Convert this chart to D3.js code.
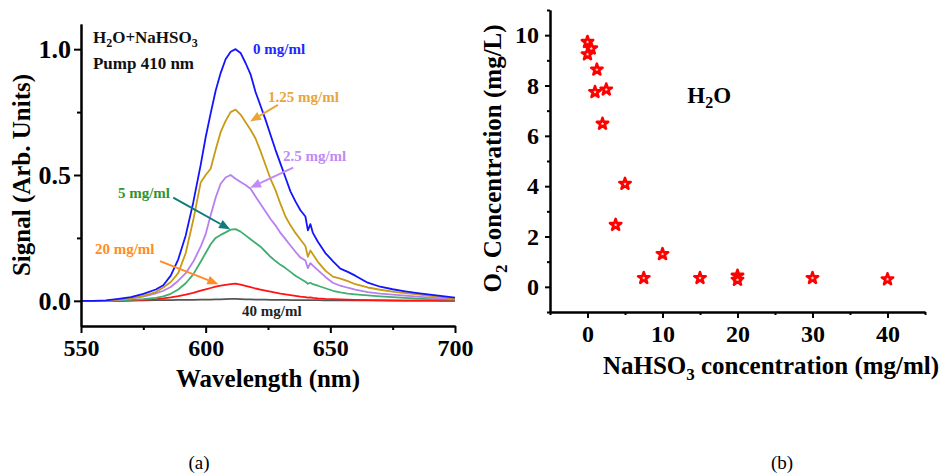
<!DOCTYPE html>
<html>
<head>
<meta charset="utf-8">
<script src="https://cdn.jsdelivr.net/npm/d3@7"></script>
<style>
  body { margin: 0; background: #fff; }
  text { font-family: "Liberation Serif", "Times New Roman", serif; }
</style>
</head>
<body>
<svg id="chart" width="943" height="474"></svg>
<script>
// ---- panel (a): emission spectra ----
const wavelengths = [550,555,560,565,570,575,580,583,586,589,592,595,598,
  600,602,604,606,608,610,612,614,616,618,620,622,624,626,628,630,632,634,636,638,640,
  641,642,643,645,648,651,654,657,660,665,670,675,680,685,690,695,700];

const signal0 = [0,0,0.002,0.008,0.015,0.028,0.045,0.062,0.1,0.165,0.26,0.39,0.54,
  0.65,0.745,0.835,0.905,0.96,0.99,1.0,0.985,0.945,0.9,0.83,0.775,0.72,0.66,0.6,0.545,0.49,0.435,0.395,0.36,0.335,
  0.28,0.305,0.27,0.235,0.19,0.158,0.128,0.115,0.1,0.072,0.056,0.046,0.038,0.031,0.025,0.019,0.013];
const signal125 = [0,0,0,0.005,0.01,0.02,0.035,0.053,0.075,0.11,0.19,0.32,0.47,
  0.5,0.525,0.6,0.67,0.715,0.75,0.76,0.74,0.71,0.68,0.645,0.595,0.54,0.485,0.44,0.385,0.335,0.3,0.27,0.244,0.218,
  0.175,0.2,0.185,0.155,0.12,0.096,0.088,0.078,0.066,0.053,0.044,0.037,0.031,0.026,0.02,0.015,0.01];
const signal25 = [0,0,0,0.004,0.01,0.017,0.03,0.04,0.055,0.08,0.11,0.155,0.215,
  0.265,0.34,0.41,0.465,0.49,0.5,0.485,0.472,0.46,0.445,0.415,0.385,0.355,0.325,0.3,0.27,0.245,0.22,0.195,0.172,0.16,
  0.13,0.15,0.14,0.122,0.095,0.072,0.06,0.052,0.045,0.035,0.029,0.025,0.021,0.017,0.013,0.01,0.008];
const signal5 = [0,0,0,0.002,0.004,0.007,0.012,0.018,0.028,0.045,0.07,0.105,0.155,
  0.19,0.225,0.25,0.262,0.272,0.283,0.285,0.275,0.26,0.245,0.23,0.215,0.195,0.175,0.158,0.143,0.13,0.115,0.1,0.088,0.076,
  0.068,0.072,0.066,0.06,0.05,0.04,0.034,0.029,0.026,0.022,0.018,0.015,0.012,0.009,0.007,0.006,0.005];
const signal20 = [0,0,0,0,0.002,0.004,0.007,0.01,0.014,0.019,0.025,0.032,0.041,
  0.046,0.051,0.056,0.06,0.063,0.066,0.068,0.064,0.059,0.054,0.049,0.045,0.041,0.037,0.033,0.029,0.026,0.023,0.02,0.017,0.015,
  0.013,0.014,0.012,0.01,0.008,0.007,0.006,0.005,0.004,0.003,0.002,0.002,0.001,0.001,0.001,0,0];
const signal40 = [0,0,0,0,0.001,0.002,0.003,0.003,0.003,0.004,0.004,0.004,0.005,
  0.005,0.005,0.006,0.006,0.007,0.008,0.008,0.007,0.006,0.006,0.005,0.005,0.005,0.004,0.004,0.004,0.004,0.003,0.003,0.003,0.003,
  0.003,0.003,0.003,0.003,0.002,0.002,0.002,0.002,0.002,0.002,0.002,0.001,0.001,0.001,0.001,0.001,0.001];

// drawing order: lowest first, 0 mg/ml on top
const seriesLabels = ['40 mg/ml', '20 mg/ml', '5 mg/ml', '2.5 mg/ml', '1.25 mg/ml', '0 mg/ml'];
const seriesValues = [signal40, signal20, signal5, signal25, signal125, signal0];
const seriesColors = ['#555555', '#ff1414', '#3fae6f', '#b87ff0', '#c99a16', '#1414ff'];

const xTicksA = [550, 600, 650, 700];
const xMinorA = [575, 625, 675];
const yTicksA = [0.0, 0.5, 1.0];
const yMinorA = [0.25, 0.75];

// ---- panel (b): dissolved oxygen ----
const naConc = [0, 0.5, 0, 1.25, 1, 2.5, 2, 5, 3.75, 7.5, 10, 15, 20, 20, 30, 40];
const o2Conc = [9.73, 9.47, 9.24, 8.63, 7.74, 7.84, 6.48, 4.09, 2.46, 0.35, 1.3, 0.35, 0.44, 0.28, 0.35, 0.3];
const xTicksB = [0, 10, 20, 30, 40];
const xMinorB = [-5, 5, 15, 25, 35, 45];
const yTicksB = [0, 2, 4, 6, 8, 10];
const yMinorB = [-1, 1, 3, 5, 7, 9, 11];

const svg = d3.select('#chart');
svg.append('rect').attr('width', 943).attr('height', 474).attr('fill', '#fff');

function styleAxis(g, size) {
  g.select('.domain').attr('stroke', '#000').attr('stroke-width', 2);
  g.selectAll('.tick line').attr('stroke', '#000').attr('stroke-width', 2);
  g.selectAll('.tick text')
    .attr('fill', '#000')
    .style('font-family', '"Liberation Serif", "Times New Roman", serif')
    .style('font-weight', 'bold')
    .style('font-size', size + 'px');
}

// ---------- panel (a) ----------
const xA = d3.scaleLinear().domain([550, 700]).range([81, 455]);
const yA = d3.scaleLinear().domain([-0.1, 1.1]).range([326, 24]);

const gA = svg.append('g');

const lineA = d3.line()
  .x((d, i) => xA(wavelengths[i]))
  .y(d => yA(d));

seriesValues.forEach((vals, k) => {
  gA.append('path')
    .attr('d', lineA(vals))
    .attr('fill', 'none')
    .attr('stroke', seriesColors[k])
    .attr('stroke-width', 1.8)
    .attr('stroke-linejoin', 'round');
});

// axes
gA.append('g').attr('transform', 'translate(0,326)')
  .call(d3.axisBottom(xA).tickValues(xMinorA).tickSize(4).tickFormat('').tickSizeOuter(0))
  .call(g => styleAxis(g, 24));
gA.append('g').attr('transform', 'translate(0,326)')
  .call(d3.axisBottom(xA).tickValues(xTicksA).tickSize(7).tickPadding(6).tickFormat(d3.format('d')).tickSizeOuter(0))
  .call(g => styleAxis(g, 24));
gA.append('g').attr('transform', 'translate(81,0)')
  .call(d3.axisLeft(yA).tickValues(yMinorA).tickSize(4).tickFormat('').tickSizeOuter(0))
  .call(g => styleAxis(g, 24));
gA.append('g').attr('transform', 'translate(81,0)')
  .call(d3.axisLeft(yA).tickValues(yTicksA).tickSize(7).tickPadding(3).tickFormat(d3.format('.1f')).tickSizeOuter(0))
  .call(g => styleAxis(g, 26));

// axis titles
gA.append('text')
  .attr('x', xA(625)).attr('y', 387)
  .attr('text-anchor', 'middle')
  .style('font-weight', 'bold').style('font-size', '25px')
  .text('Wavelength (nm)');
gA.append('text')
  .attr('transform', 'translate(30,' + yA(0.5) + ') rotate(-90)')
  .attr('text-anchor', 'middle')
  .style('font-weight', 'bold').style('font-size', '25px')
  .text('Signal (Arb. Units)');

// corner labels
const headA = gA.append('text').attr('x', xA(554.8)).attr('y', yA(1.026))
  .style('font-weight', 'bold').style('font-size', '17px').attr('fill', '#111');
headA.append('tspan').text('H');
headA.append('tspan').attr('dy', 4).style('font-size', '12px').text('2');
headA.append('tspan').attr('dy', -4).text('O+NaHSO');
headA.append('tspan').attr('dy', 4).style('font-size', '12px').text('3');
gA.append('text').attr('x', xA(554.8)).attr('y', yA(0.923))
  .style('font-weight', 'bold').style('font-size', '17px').attr('fill', '#111')
  .text('Pump 410 nm');

// curve labels and arrows (data coordinates)
const curveLabels = [
  { text: '0 mg/ml', wl: 619.0, v: 0.98, color: '#2424ff' },
  { text: '1.25 mg/ml', wl: 625.0, v: 0.792, color: '#e8a63a' },
  { text: '2.5 mg/ml', wl: 631.0, v: 0.555, color: '#c28af5' },
  { text: '5 mg/ml', wl: 564.8, v: 0.41, color: '#2e962e' },
  { text: '20 mg/ml', wl: 555.6, v: 0.185, color: '#ff8c24' },
  { text: '40 mg/ml', wl: 614.6, v: -0.059, color: '#222' }
];
const curveArrows = [
  { wl0: 629.0, v0: 0.779, wl1: 617.8, v1: 0.713, color: '#e8a63a' },
  { wl0: 635.1, v0: 0.529, wl1: 617.8, v1: 0.449, color: '#c28af5' },
  { wl0: 587.0, v0: 0.41, wl1: 609.8, v1: 0.284, color: '#0e7c7c' },
  { wl0: 581.7, v0: 0.158, wl1: 605.1, v1: 0.066, color: '#ff8c24' }
];

curveLabels.forEach(l => {
  gA.append('text')
    .attr('x', xA(l.wl)).attr('y', yA(l.v))
    .attr('fill', l.color)
    .style('font-weight', 'bold').style('font-size', '15px')
    .text(l.text);
});

curveArrows.forEach(a => {
  const x0 = xA(a.wl0), y0 = yA(a.v0), x1 = xA(a.wl1), y1 = yA(a.v1);
  const ang = Math.atan2(y1 - y0, x1 - x0);
  const hl = 11, hw = 4.5;
  const bx = x1 - hl * Math.cos(ang), by = y1 - hl * Math.sin(ang);
  gA.append('line')
    .attr('x1', x0).attr('y1', y0).attr('x2', bx).attr('y2', by)
    .attr('stroke', a.color).attr('stroke-width', 2);
  const px = -Math.sin(ang) * hw, py = Math.cos(ang) * hw;
  gA.append('path')
    .attr('d', `M${x1},${y1}L${bx + px},${by + py}L${bx - px},${by - py}Z`)
    .attr('fill', a.color);
});

// ---------- panel (b) ----------
const xB = d3.scaleLinear().domain([-5, 45]).range([550, 925]);
const yB = d3.scaleLinear().domain([-1, 11]).range([312, 10]);
const gB = svg.append('g');

gB.append('g').attr('transform', 'translate(0,312)')
  .call(d3.axisBottom(xB).tickValues(xMinorB).tickSize(3).tickFormat('').tickSizeOuter(0))
  .call(g => styleAxis(g, 24));
gB.append('g').attr('transform', 'translate(0,312)')
  .call(d3.axisBottom(xB).tickValues(xTicksB).tickSize(6).tickPadding(7).tickFormat(d3.format('d')).tickSizeOuter(0))
  .call(g => styleAxis(g, 24));
gB.append('g').attr('transform', 'translate(550,0)')
  .call(d3.axisLeft(yB).tickValues(yMinorB).tickSize(3).tickFormat('').tickSizeOuter(0))
  .call(g => styleAxis(g, 24));
gB.append('g').attr('transform', 'translate(550,0)')
  .call(d3.axisLeft(yB).tickValues(yTicksB).tickSize(5).tickPadding(6).tickFormat(d3.format('d')).tickSizeOuter(0))
  .call(g => styleAxis(g, 24));

const star = d3.symbol(d3.symbolStar, 40);
gB.selectAll('.star')
  .data(naConc)
  .enter()
  .append('path')
  .attr('class', 'star')
  .attr('transform', (d, i) => 'translate(' + xB(d) + ',' + yB(o2Conc[i]) + ')')
  .attr('d', star)
  .attr('fill', '#ffd0d0')
  .attr('stroke', '#ff0000')
  .attr('stroke-width', 2.6)
  .attr('stroke-linejoin', 'round');

// titles
const xtB = gB.append('text')
  .attr('x', 771).attr('y', 374)
  .attr('text-anchor', 'middle')
  .style('font-weight', 'bold').style('font-size', '25px');
xtB.append('tspan').text('NaHSO');
xtB.append('tspan').attr('dy', 6).style('font-size', '17px').text('3');
xtB.append('tspan').attr('dy', -6).text(' concentration (mg/ml)');

const ytB = gB.append('text')
  .attr('transform', 'translate(501,' + yB(5.1) + ') rotate(-90)')
  .attr('text-anchor', 'middle')
  .style('font-weight', 'bold').style('font-size', '25px');
ytB.append('tspan').text('O');
ytB.append('tspan').attr('dy', 6).style('font-size', '17px').text('2');
ytB.append('tspan').attr('dy', -6).text(' Concentration (mg/L)');

const h2o = gB.append('text')
  .attr('x', xB(13.3)).attr('y', yB(7.3))
  .style('font-weight', 'bold').style('font-size', '23px');
h2o.append('tspan').text('H');
h2o.append('tspan').attr('dy', 5).style('font-size', '16px').text('2');
h2o.append('tspan').attr('dy', -5).text('O');

// captions
svg.append('text').attr('x', 199).attr('y', 469).attr('text-anchor', 'middle')
  .style('font-size', '19px').text('(a)');
svg.append('text').attr('x', 782).attr('y', 469).attr('text-anchor', 'middle')
  .style('font-size', '19px').text('(b)');
</script>
</body>
</html>
